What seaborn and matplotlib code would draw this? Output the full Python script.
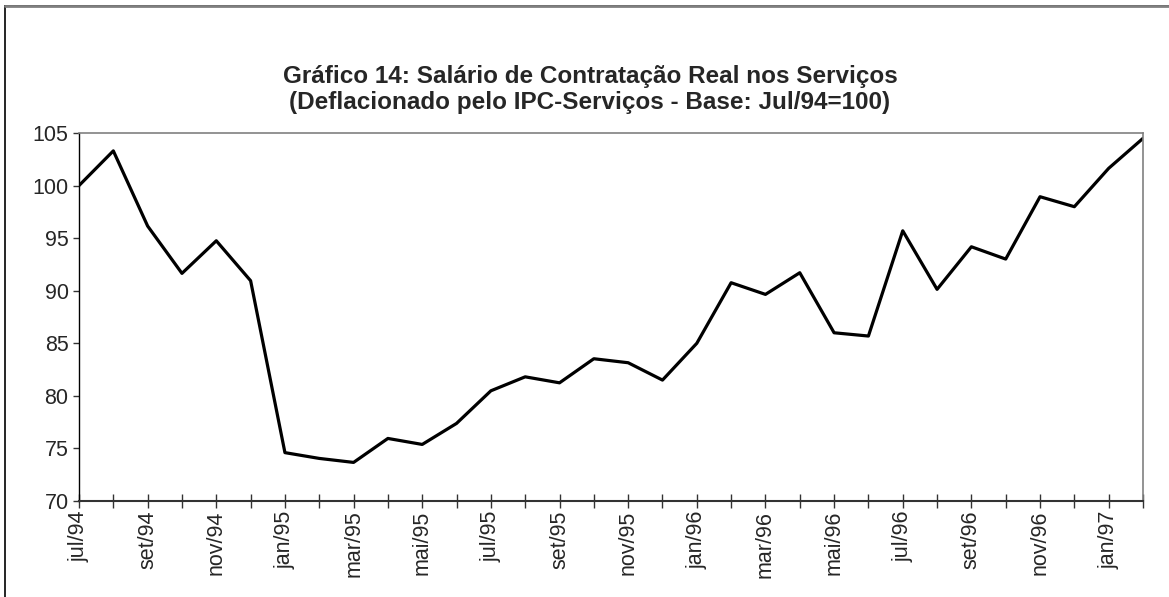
import matplotlib
matplotlib.use("Agg")
import matplotlib.pyplot as plt
import seaborn as sns
import pandas as pd
from matplotlib.patches import Rectangle

months = ["jul/94", "ago/94", "set/94", "out/94", "nov/94", "dez/94",
          "jan/95", "fev/95", "mar/95", "abr/95", "mai/95", "jun/95",
          "jul/95", "ago/95", "set/95", "out/95", "nov/95", "dez/95",
          "jan/96", "fev/96", "mar/96", "abr/96", "mai/96", "jun/96",
          "jul/96", "ago/96", "set/96", "out/96", "nov/96", "dez/96",
          "jan/97", "fev/97"]
salario = [100.0, 103.3, 96.15, 91.65, 94.75, 90.95,
           74.6, 74.05, 73.67, 75.95, 75.38, 77.38,
           80.48, 81.81, 81.24, 83.53, 83.15, 81.5,
           85.0, 90.76, 89.65, 91.71, 86.0, 85.69,
           95.7, 90.13, 94.18, 93.01, 98.94, 97.99,
           101.64, 104.49]
yticks = [70, 75, 80, 85, 90, 95, 100, 105]

sns.set_theme(style="white")
plt.rcParams['font.family'] = ['Liberation Sans', 'DejaVu Sans']

df = pd.DataFrame({"idx": range(len(months)), "mes": months, "valor": salario})

W, H = 1169, 597
fig = plt.figure(figsize=(W / 100, H / 100), dpi=100)
ax = fig.add_axes([79 / W, 1 - 501 / H, (1143 - 79) / W, (501 - 133) / H])

sns.lineplot(data=df, x="idx", y="valor", ax=ax, color="black", linewidth=2.3)

ax.set_xlim(0, len(months) - 1)
ax.set_ylim(70, 105)
ax.set_yticks(yticks)
ax.set_yticklabels([str(v) for v in yticks], fontsize=15.5)
ax.set_xticks(range(len(months)))
ax.set_xticklabels([m if i % 2 == 0 else "" for i, m in enumerate(months)],
                   rotation=90, fontsize=15.5)
ax.set_xlabel("")
ax.set_ylabel("")
ax.tick_params(axis="x", bottom=True, direction="inout", length=10, width=1,
               color="#333333", pad=2)
ax.tick_params(axis="y", left=True, direction="out", length=4.5, width=1,
               color="#333333", pad=3)
for side in ["top", "right"]:
    ax.spines[side].set_color("#808080")
    ax.spines[side].set_linewidth(1.2)
ax.spines["left"].set_color("black")
ax.spines["left"].set_linewidth(1)
ax.spines["bottom"].set_color("#333333")
ax.spines["bottom"].set_linewidth(1.5)

fig.text(590 / W, 1 - 76 / H, "Gráfico 14: Salário de Contratação Real nos Serviços",
         ha="center", va="center", fontsize=17.5, fontweight="bold")
fig.text(590 / W, 1 - 103 / H, "(Deflacionado pelo IPC-Serviços - Base: Jul/94=100)",
         ha="center", va="center", fontsize=17.5, fontweight="bold")

frame = Rectangle((5 / W, -0.1), 1.2, 1 - 6 / H + 0.1, transform=fig.transFigure,
                  fill=False, edgecolor="black", linewidth=1.2)
fig.add_artist(frame)
fig.add_artist(plt.Line2D([5 / W, 1], [1 - 6 / H, 1 - 6 / H], transform=fig.transFigure,
                          color="#808080", linewidth=2))

fig.savefig("out.png", dpi=100, facecolor="white")
